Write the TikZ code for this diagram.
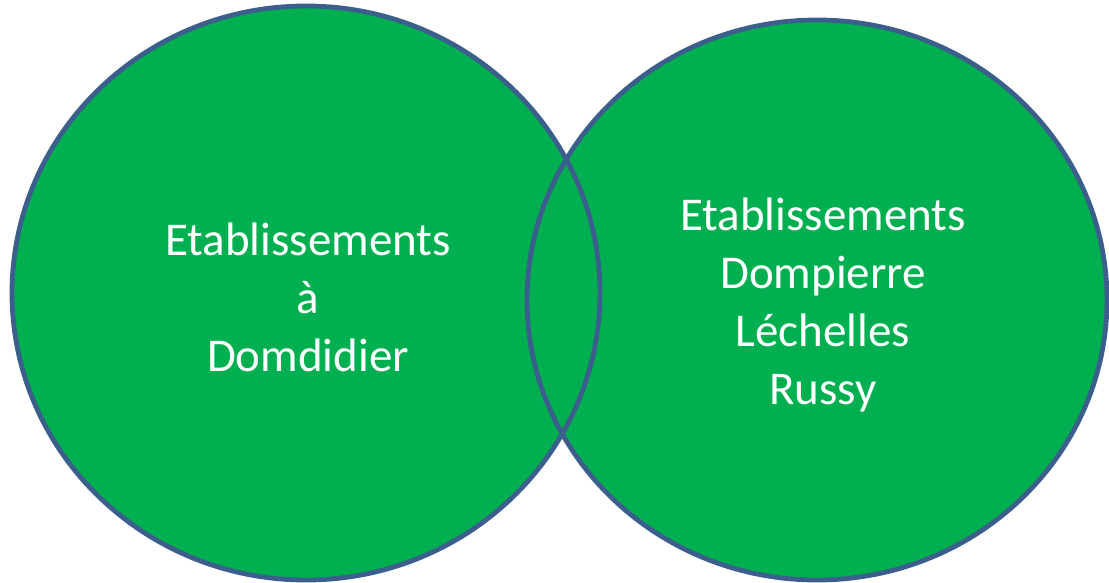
\documentclass[tikz,border=0pt]{standalone}
\usepackage{fontspec}
\setmainfont{Carlito}
\usetikzlibrary{shapes.geometric}
\definecolor{vgreen}{RGB}{0,176,80}
\definecolor{vblue}{RGB}{59,94,140}
\tikzset{
  setfill/.style={fill=vgreen, draw=none},
  setline/.style={draw=vblue, line width=4.8pt},
  settext/.style={text=white, align=center, font=\fontsize{47}{58}\selectfont}
}
\begin{document}
\begin{tikzpicture}[x=1pt,y=-1pt]
\useasboundingbox (0,0) rectangle (1109,583);
% fills
\fill[setfill] (306,293) ellipse [x radius=294, y radius=287];
\fill[setfill] (817,300) ellipse [x radius=290, y radius=280];
% outlines
\coordinate (lc) at (306,293);
\coordinate (rc) at (817,300);
\draw[setline] (lc) ellipse [x radius=294, y radius=287];
\draw[setline] (rc) ellipse [x radius=290, y radius=280];
% labels
\node[settext] (lt) at (308,297) {Etablissements\\à\\Domdidier};
\node[settext] (rt) at (823,305) {Etablissements\\Dompierre\\Léchelles\\Russy};
\end{tikzpicture}
\end{document}
